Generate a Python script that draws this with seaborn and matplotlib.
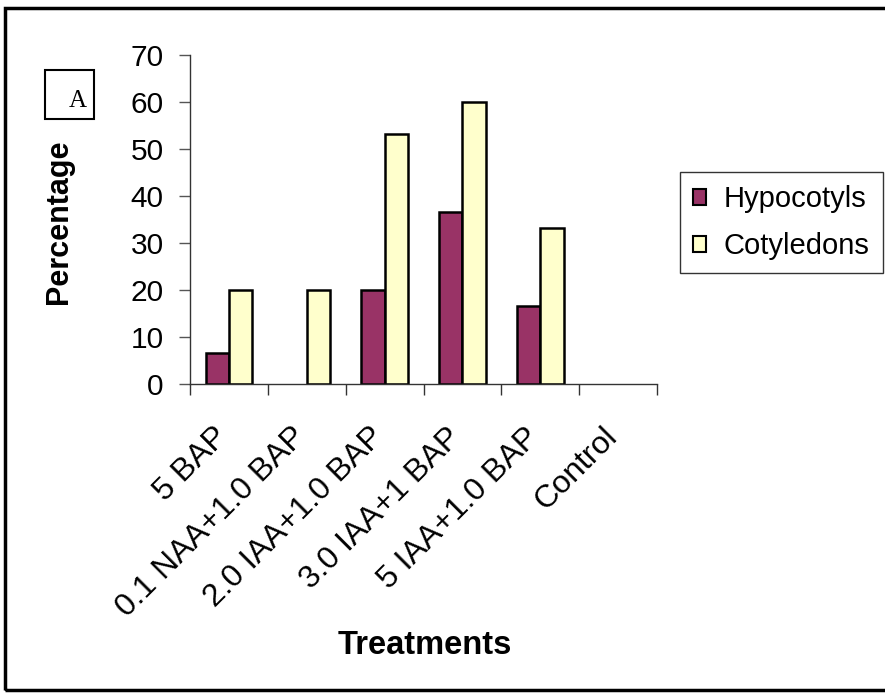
import matplotlib
matplotlib.use("Agg")
import matplotlib.pyplot as plt
import matplotlib.transforms as mtransforms
import seaborn as sns
import pandas as pd
import numpy as np
from matplotlib.patches import Rectangle

treatments = ["5 BAP", "0.1 NAA+1.0 BAP", "2.0 IAA+1.0 BAP", "3.0 IAA+1 BAP", "5 IAA+1.0 BAP", "Control"]
hypocotyls = [6.7, 0, 20, 36.7, 16.7, 0]
cotyledons = [20, 20, 53.3, 60, 33.3, 0]
series = ["Hypocotyls", "Cotyledons"]
colors = ["#993366", "#FFFFCC"]

df = pd.DataFrame({
    "Treatment": treatments * 2,
    "Value": hypocotyls + cotyledons,
    "Series": [series[0]] * len(treatments) + [series[1]] * len(treatments),
})

sns.set_theme(style="white")
plt.rcParams['font.family'] = ['Liberation Sans', 'DejaVu Sans']
plt.rcParams['text.color'] = 'black'
plt.rcParams['xtick.color'] = 'black'
plt.rcParams['ytick.color'] = 'black'

fig = plt.figure(figsize=(8.85, 6.95), dpi=100)
ax = fig.add_axes([190/885, 1-384/695, (657-190)/885, (384-55.5)/695])

sns.barplot(data=df, x="Treatment", y="Value", hue="Series", palette=colors, saturation=1,
            width=0.6, edgecolor="black", linewidth=1.8, ax=ax, legend=True)

# hide zero-height bars
for cont in ax.containers:
    for bar in cont:
        if bar.get_height() == 0:
            bar.set_visible(False)

ax.set_ylim(0, 70)
ax.set_xlim(-0.5, len(treatments) - 0.5)
ax.set_yticks(np.arange(0, 71, 10))
ax.tick_params(axis='y', labelsize=21.5, length=8, width=1, color="#555555", left=True, pad=11)
ax.set_xticks(range(len(treatments)))
ax.set_xticklabels(treatments, rotation=45, ha='right', va='top', rotation_mode='anchor', fontsize=23)
ax.tick_params(axis='x', length=0, pad=0)
ax.set_xticks(np.arange(-0.5, len(treatments), 1), minor=True)
ax.tick_params(axis='x', which='minor', length=8, width=1, color="#333333", bottom=True)
offset = mtransforms.ScaledTranslation(-16/100, -38/100, fig.dpi_scale_trans)
for lab in ax.get_xticklabels():
    lab.set_transform(lab.get_transform() + offset)
for s in ["top", "right"]:
    ax.spines[s].set_visible(False)
for s in ["left", "bottom"]:
    ax.spines[s].set_color("#333333")
    ax.spines[s].set_linewidth(1.0)

ax.set_ylabel("")
ax.set_xlabel("")
fig.text(59.5/885, 1-222/695, "Percentage", fontsize=22, fontweight='bold', rotation=90,
         ha='center', va='center')
fig.text(424.5/885, 1-646/695, "Treatments", fontsize=23.5, fontweight='bold', ha='center', va='center')

leg = ax.legend(loc='upper left', bbox_to_anchor=(680/885, 1-172/695), bbox_transform=fig.transFigure,
                fontsize=21, frameon=True, fancybox=False, edgecolor="black",
                handlelength=0.45, handleheight=0.45, handletextpad=0.6, borderpad=0.45,
                labelspacing=0.65, borderaxespad=0)
leg.get_frame().set_linewidth(1.0)
for h in leg.legend_handles:
    h.set_edgecolor("black")
    h.set_linewidth(1.5)

# outer frame
fig.patches.append(Rectangle((5/885, 5/695), 1.2, 1-13/695, transform=fig.transFigure,
                             fill=False, edgecolor="black", linewidth=2.5))
# "A" box
fig.patches.append(Rectangle((45/885, 1-119/695), 49/885, 49/695, transform=fig.transFigure,
                             fill=False, edgecolor="black", linewidth=1.5))
fig.text(78/885, 1-101/695, "A", fontsize=18, family="Liberation Serif", ha='center', va='center')

fig.savefig("out.png", dpi=100)
